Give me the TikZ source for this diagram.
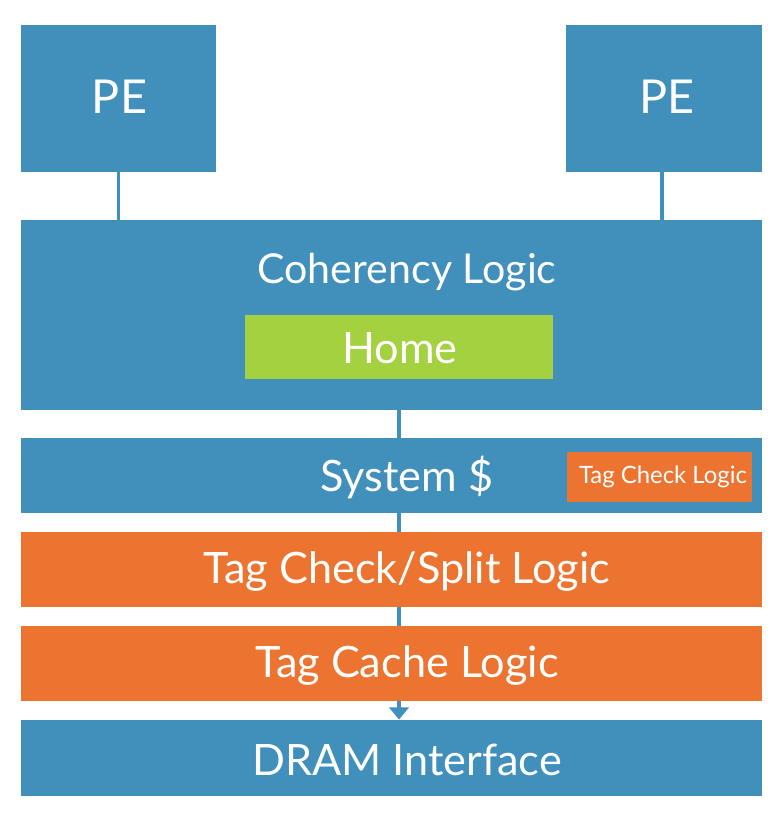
\documentclass[tikz,border=0pt]{standalone}
\usepackage{fontspec}
\setmainfont{Lato}
\usetikzlibrary{arrows.meta}
\definecolor{blockblue}{RGB}{65,143,187}
\definecolor{blockorange}{RGB}{237,116,48}
\definecolor{blockgreen}{RGB}{163,209,63}
\tikzset{
	block/.style={fill=blockblue, draw=none, inner sep=0pt},
	tagblock/.style={fill=blockorange, draw=none, inner sep=0pt},
	homeblock/.style={fill=blockgreen, draw=none, inner sep=0pt},
	txt/.style={text=white, inner sep=0pt, font=\fontsize{24.6}{29}\selectfont},
	wire/.style={blockblue, line width=2.2pt}
}

\begin{document}
\begin{tikzpicture}
	\useasboundingbox (0,0) rectangle (15.52,16.48);
	% processing elements
	\node[block, minimum width=3.9cm, minimum height=2.94cm] (peL) at (2.37,14.51){};
	\node[block, minimum width=3.92cm, minimum height=2.94cm] (peR) at (13.28,14.51){};
	\node[txt, font=\fontsize{26.6}{31}\selectfont] (peLtxt) at (2.39,14.55){PE};
	\node[txt, font=\fontsize{26.6}{31}\selectfont] (peRtxt) at (13.34,14.55){PE};
	% coherency
	\node[block, minimum width=14.82cm, minimum height=3.8cm] (coh) at (7.83,10.18){};
	\node[txt, font=\fontsize{23.4}{28}\selectfont] (cohtxt) at (8.14,11.03){Coherency Logic};
	\node[homeblock, minimum width=6.16cm, minimum height=1.28cm] (home) at (7.98,9.54){};
	\node[txt] (hometxt) at (8.0,9.52){Home};
	% system cache
	\node[block, minimum width=14.82cm, minimum height=1.5cm] (sys) at (7.83,6.97){};
	\node[txt] (systxt) at (8.14,6.93){System \$};
	\node[tagblock, minimum width=3.7cm, minimum height=1.0cm] (tcl) at (13.19,6.94){};
	\node[txt, font=\fontsize{13.6}{16}\selectfont] (tcltxt) at (13.26,6.95){Tag Check Logic};
	% tag logic
	\node[tagblock, minimum width=14.82cm, minimum height=1.5cm] (split) at (7.83,5.09){};
	\node[txt] (splittxt) at (8.14,5.05){Tag Check/Split Logic};
	\node[tagblock, minimum width=14.82cm, minimum height=1.5cm] (tcache) at (7.83,3.21){};
	\node[txt] (tcachetxt) at (8.14,3.17){Tag Cache Logic};
	% memory
	\node[block, minimum width=14.82cm, minimum height=1.52cm] (dram) at (7.83,1.32){};
	\node[txt] (dramtxt) at (8.14,1.28){DRAM Interface};
	% wires
	\draw[wire] (peL.south) -- (peL.south |- coh.north);
	\draw[wire] (peR.south -| 13.24,0) -- (13.24,0 |- coh.north);
	\draw[wire] (coh.south -| home.south) -- (sys.north -| home.south);
	\draw[wire] (sys.south -| home.south) -- (split.north -| home.south);
	\draw[wire] (split.south -| home.south) -- (tcache.north -| home.south);
	\draw[wire, -{Triangle[width=11pt,length=7pt]}] (tcache.south -| home.south) -- (dram.north -| home.south);
\end{tikzpicture}
\end{document}
